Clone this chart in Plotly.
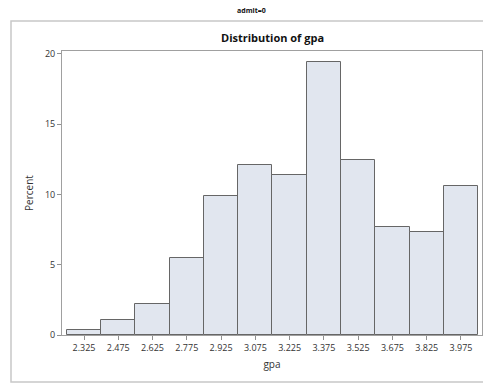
import plotly.graph_objects as go

bin_mids = [2.325, 2.475, 2.625, 2.775, 2.925, 3.075, 3.225, 3.375, 3.525, 3.675, 3.825, 3.975]
percent = [0.37, 1.10, 2.20, 5.49, 9.89, 12.09, 11.36, 19.41, 12.45, 7.69, 7.33, 10.62]
tick_labels = ["2.325", "2.475", "2.625", "2.775", "2.925", "3.075", "3.225", "3.375", "3.525", "3.675", "3.825", "3.975"]
y_ticks = [0, 5, 10, 15, 20]

FONT = "Open Sans"
W, H = 483, 387
L, R, T, B = 62, 1, 51, 52
pw = W - L - R
ph = H - T - B

def px(xp):
    return (xp - L) / pw

def py(yp):
    return (H - B - yp) / ph

fig = go.Figure()
fig.add_trace(go.Bar(
    x=bin_mids, y=percent, width=0.15,
    marker=dict(color="#E1E6EF", line=dict(color="#666666", width=1)),
    hoverinfo="x+y",
))

fig.update_layout(
    width=W, height=H,
    margin=dict(l=L, r=R, t=T, b=B),
    paper_bgcolor="white", plot_bgcolor="white",
    showlegend=False,
    font=dict(family=FONT, size=9, color="#333333"),
    bargap=0,
    xaxis=dict(
        range=[2.2287, 4.067],
        tickvals=bin_mids, ticktext=tick_labels,
        showgrid=False, zeroline=False,
        showline=True, linecolor="#A0A0A0", linewidth=1, mirror=True,
        ticks="outside", ticklen=4, tickcolor="#909090",
        tickfont=dict(size=9, color="#333333"),
        title=dict(text="gpa", font=dict(size=10, color="#333333"), standoff=8),
    ),
    yaxis=dict(
        range=[0, 20.2],
        tickvals=y_ticks,
        showgrid=False, zeroline=False,
        showline=True, linecolor="#A0A0A0", linewidth=1, mirror=True,
        ticks="outside", ticklen=4, tickcolor="#909090",
        tickfont=dict(size=9, color="#333333"),
        title=dict(text="Percent", font=dict(size=10, color="#333333"), standoff=9),
    ),
    shapes=[
        dict(type="rect", xref="paper", yref="paper",
             x0=px(11), x1=px(500), y0=py(382), y1=py(21),
             line=dict(color="#C8C8C8", width=1.5), layer="below"),
    ],
    annotations=[
        dict(text="<b>Distribution of gpa</b>", xref="paper", yref="paper",
             x=0.5, y=py(37), xanchor="center", yanchor="middle",
             showarrow=False, font=dict(size=11, color="#111111", family=FONT)),
        dict(text="<b>admit=0</b>", xref="paper", yref="paper",
             x=px(251), y=py(11), xanchor="center", yanchor="middle",
             showarrow=False, font=dict(size=7, color="#111111", family=FONT)),
    ],
)

fig.write_html("out.html", config={"displayModeBar": False},
               post_script="document.body.style.margin='0';document.body.style.overflow='hidden';")
